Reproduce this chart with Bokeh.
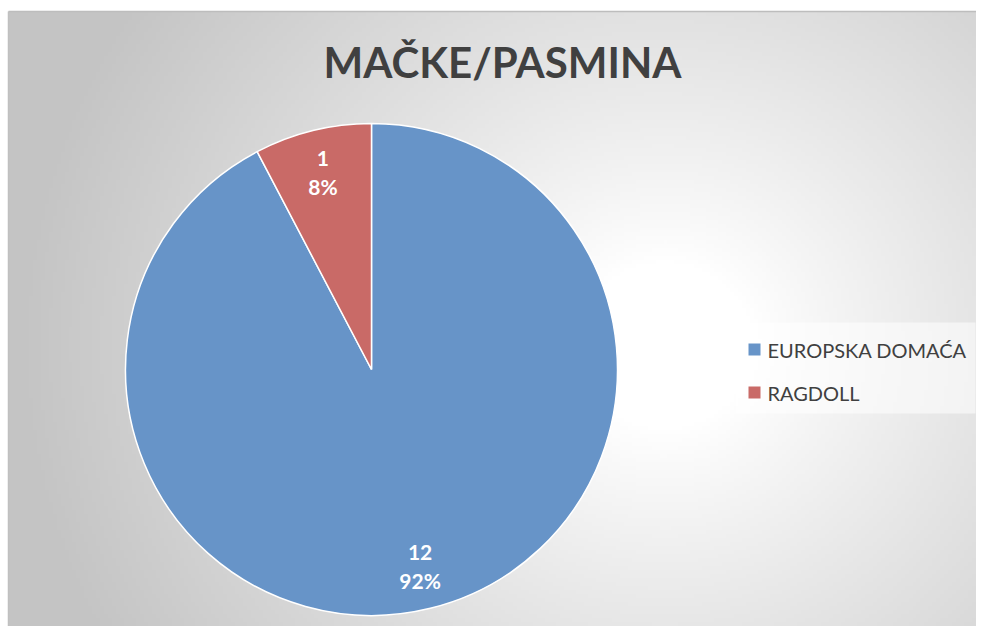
import numpy as np
from bokeh.plotting import figure
from bokeh.models import Range1d, ColumnDataSource
from bokeh.core.properties import value
from bokeh.embed import file_html
from bokeh.resources import INLINE

title_text = "MAČKE/PASMINA"
categories = ["EUROPSKA DOMAĆA", "RAGDOLL"]
counts = [12, 1]
colors = ["#6794C8", "#C96A67"]

W, H = 976, 626
# data units = screenshot pixels; y is negated screenshot y
p = figure(width=W, height=H, output_backend="svg", toolbar_location=None,
           x_range=Range1d(0, W), y_range=Range1d(-H, 0),
           min_border=0, background_fill_color="white", border_fill_color="white",
           outline_line_color=None)
p.axis.visible = False
p.grid.visible = False

# radial gradient background (decoration)
nx, ny = 244, 154
gx = np.linspace(8, W, nx)
gy = np.linspace(11, H, ny)
X, Y = np.meshgrid(gx, gy)
d = np.sqrt(((X - 665) / 1.0) ** 2 + ((Y - 345) / 0.95) ** 2)
t = np.clip((d - 90) / 560.0, 0, 1) ** 0.9
g = (255 - t * (255 - 196)).astype(np.uint32)
img = (255 << 24) | (g << 16) | (g << 8) | g
img = img[::-1, :]
p.image_rgba(image=[img.view(np.uint32)], x=8, y=-H, dw=W - 8, dh=H - 11)
p.segment(x0=[8], y0=[-11], x1=[W], y1=[-11], line_color="#bdbdbd", line_width=1.5)
p.segment(x0=[8], y0=[-11], x1=[8], y1=[-H], line_color="#c0c0c0", line_width=1.5)

# pie
cx, cy, R = 371, -369, 246
total = sum(counts)
frac = np.array(counts) / total
cum = np.concatenate([[0], np.cumsum(frac)]) * 360.0  # clockwise from 12 o'clock
start = np.radians(90 - cum[1:])
end = np.radians(90 - cum[:-1])
src = ColumnDataSource(dict(start=start, end=end, color=colors, cat=categories))
p.wedge(x=cx, y=cy, radius=R, start_angle="start", end_angle="end",
        fill_color="color", line_color="white", line_width=1.5, source=src)

# data labels
mid = np.radians((cum[:-1] + cum[1:]) / 2)
lr = 0.825 * R
lx = cx + lr * np.sin(mid)
ly = cy + lr * np.cos(mid)
pct = [f"{round(100 * f)}%" for f in frac]
cnt = [str(c) for c in counts]
p.text(x=lx, y=ly, text=cnt, text_color="white", text_font=value("Lato"),
       text_font_style="bold", text_font_size="21px", text_align="center",
       text_baseline="middle", y_offset=-14)
p.text(x=lx, y=ly, text=pct, text_color="white", text_font=value("Lato"),
       text_font_style="bold", text_font_size="21px", text_align="center",
       text_baseline="middle", y_offset=14)

# title
p.text(x=[502], y=[-61], text=[title_text], text_color="#404040", text_font=value("Lato"),
       text_font_style="bold", text_font_size="42px", text_align="center",
       text_baseline="middle")

# legend (manual)
p.quad(left=[735], right=[W - 1], top=[-322], bottom=[-413], fill_color="white",
       fill_alpha=0.55, line_color=None)
ly_leg = [-349, -392]
p.scatter(x=[754] * len(categories), y=ly_leg, marker="square", size=12,
          fill_color=colors, line_color=None)
p.text(x=[767] * len(categories), y=ly_leg, text=categories, text_color="#404040",
       text_font=value("Lato"), text_font_size="20px", text_align="left",
       text_baseline="middle")

open("out.html", "w").write(file_html(p, INLINE))
